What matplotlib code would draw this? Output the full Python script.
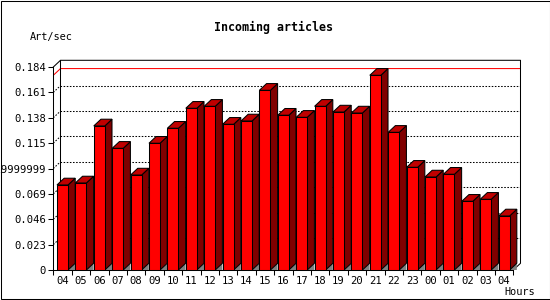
import matplotlib
matplotlib.use("Agg")
import matplotlib.pyplot as plt
from matplotlib.patches import Polygon, Rectangle

# Dados (artigos por segundo, por hora)
hours = ["04", "05", "06", "07", "08", "09", "10", "11", "12", "13", "14", "15",
         "16", "17", "18", "19", "20", "21", "22", "23", "00", "01", "02", "03", "04"]
rates = [0.0771, 0.0789, 0.1306, 0.1103, 0.0861, 0.1149, 0.1285, 0.1466, 0.1484,
         0.1321, 0.1351, 0.1629, 0.1403, 0.1384, 0.1484, 0.1432, 0.1423, 0.1765,
         0.1248, 0.0931, 0.0843, 0.0868, 0.0623, 0.0641, 0.0490]
y_ticks = [0, 0.023, 0.046, 0.069, 0.092, 0.115, 0.138, 0.161, 0.184]
y_labels = ["0", "0.023", "0.046", "0.069", "0.0919999999", "0.115", "0.138", "0.161", "0.184"]

plt.rcParams['font.family'] = ['DejaVu Sans Mono', 'DejaVu Sans']

n = len(rates)
dx = 0.39      # profundidade 3D (em unidades de barra)
dy = 0.0061    # profundidade 3D (em unidades de y)
width = 0.6
ytop = y_ticks[-1] + dy
lw = 0.75

fig = plt.figure(figsize=(5.5, 3), dpi=100)
ax = fig.add_axes([53.3 / 550, 30 / 300, 467.2 / 550, 209.7 / 300])
ax.set_xlim(0, n + dx)
ax.set_ylim(0, ytop)
for s in ax.spines.values():
    s.set_visible(False)

# eixos e plano de fundo
ax.plot([0, 0], [0, y_ticks[-1]], color="black", lw=lw, clip_on=False)
ax.plot([0, n], [0, 0], color="black", lw=lw, clip_on=False)
ax.plot([0, dx, n + dx, n + dx, n], [y_ticks[-1], ytop, ytop, dy, 0],
        color="black", lw=lw, clip_on=False)
ax.plot([dx, dx], [dy, ytop], color="black", lw=lw, clip_on=False)

# grade pontilhada no fundo
for v in y_ticks[1:-1]:
    ax.plot([dx, n + dx], [v + dy, v + dy], color="black", lw=lw,
            linestyle=(0, (1.5, 1.5)), zorder=1)
    ax.plot([0, dx], [v, v + dy], color="black", lw=lw,
            linestyle=(0, (1.5, 1.5)), zorder=1)

# linha do maximo
vmax = max(rates)
ax.plot([0, dx, n + dx], [vmax, vmax + dy, vmax + dy], color="red", lw=lw, zorder=1)

# barras 3D
for i, v in enumerate(rates):
    x0 = i + 0.5 - width / 2
    x1 = x0 + width
    ax.add_patch(Polygon([(x1, 0), (x1 + dx, dy), (x1 + dx, 0)], closed=True,
                         facecolor="#808080", edgecolor="none", zorder=2))
    ax.add_patch(Polygon([(x1, 0), (x1 + dx, dy), (x1 + dx, v + dy), (x1, v)], closed=True,
                         facecolor="#800000", edgecolor="black", lw=lw, zorder=3))
    ax.add_patch(Polygon([(x0, v), (x1, v), (x1 + dx, v + dy), (x0 + dx, v + dy)], closed=True,
                         facecolor="#c00000", edgecolor="black", lw=lw, zorder=3))
    ax.bar(i + 0.5, v, width=width, color="red", edgecolor="black", lw=lw, zorder=4)

# ticks
ax.set_yticks(y_ticks)
ax.set_yticklabels(y_labels)
ax.tick_params(axis="y", length=3.6, width=lw, pad=1.5, labelsize=7.6)
ax.set_xticks([i + 0.5 for i in range(n)])
ax.set_xticklabels(hours)
ax.set_xticks(range(n + 1), minor=True)
ax.tick_params(axis="x", which="major", length=0, pad=4, labelsize=7.6)
ax.tick_params(axis="x", which="minor", length=3.6, width=lw)

fig.text(274 / 550, 1 - 27 / 300, "Incoming articles", ha="center", va="center",
         fontsize=8.4, fontweight="bold")
fig.text(30 / 550, 1 - 37 / 300, "Art/sec", ha="left", va="center", fontsize=7.4)
fig.text(535 / 550, 1 - 292 / 300, "Hours", ha="right", va="center", fontsize=7.4)

# moldura da imagem
fig.add_artist(Rectangle((0.5 / 550, 1.5 / 300), 549 / 550, 298 / 300, fill=False,
                         edgecolor="black", lw=lw, transform=fig.transFigure))

fig.savefig("out.png", dpi=100)
